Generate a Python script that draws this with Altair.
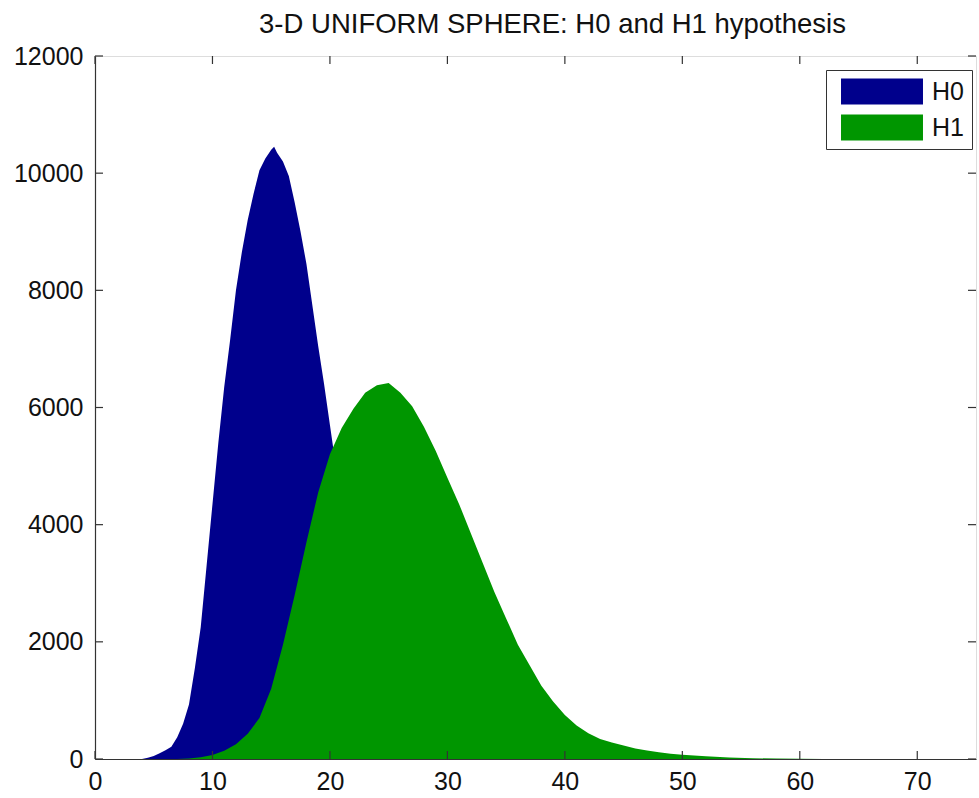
import altair as alt
import pandas as pd

# Histogram counts of the test statistic under each hypothesis
h0_x = [4, 4.5, 5, 5.5, 6, 6.5, 7, 7.5, 8, 8.5, 9, 9.5, 10, 10.5, 11, 11.5, 12, 12.5,
        13, 13.5, 14, 14.5, 15, 15.25, 15.5, 16, 16.5, 17, 17.5, 18, 18.5, 19, 19.5, 20,
        20.5, 21, 21.5, 22, 23, 24, 25, 26, 27, 28, 29, 30, 32, 34]
h0_count = [0, 20, 50, 100, 150, 210, 370, 600, 930, 1550, 2250, 3300, 4350, 5400,
            6350, 7150, 8000, 8650, 9200, 9650, 10050, 10250, 10400, 10450, 10350, 10200,
            9950, 9500, 9000, 8450, 7750, 7050, 6400, 5700, 5000, 4300, 3700, 3100,
            2100, 1350, 850, 500, 290, 160, 80, 40, 10, 0]

h1_x = [7, 8, 9, 10, 11, 12, 13, 14, 15, 16, 17, 18, 19, 20, 21, 22, 23, 24, 25,
        26, 27, 28, 29, 30, 31, 32, 33, 34, 35, 36, 37, 38, 39, 40, 41, 42, 43, 44,
        45, 46, 47, 48, 49, 50, 52, 54, 56, 58, 60, 62, 64]
h1_count = [0, 10, 30, 70, 140, 250, 430, 700, 1200, 1950, 2800, 3700, 4550, 5200,
            5650, 5980, 6250, 6380, 6420, 6250, 6020, 5670, 5260, 4800, 4350, 3850,
            3350, 2850, 2400, 1950, 1600, 1250, 980, 750, 570, 440, 340, 280, 230,
            180, 145, 115, 90, 72, 45, 25, 14, 7, 3, 1, 0]

series_names = ["H0", "H1"]
series_colors = ["#00008C", "#009600"]

x_tick_values = [0, 10, 20, 30, 40, 50, 60, 70]
y_tick_values = [0, 2000, 4000, 6000, 8000, 10000, 12000]

W, H = 881, 703
TICK = 8
FONT = "Liberation Sans"

hist = pd.concat([
    pd.DataFrame({"x": h0_x, "count": h0_count, "series": series_names[0]}),
    pd.DataFrame({"x": h1_x, "count": h1_count, "series": series_names[1]}),
])

x_scale = alt.Scale(domain=[0, 75], nice=False, zero=False)
y_scale = alt.Scale(domain=[0, 12000], nice=False)

x_axis = alt.Axis(values=x_tick_values, title=None, ticks=False, labelFontSize=25,
                  labelFont=FONT, labelColor="#111", labelPadding=10,
                  domainColor="#333", domainWidth=1.2, grid=False, zindex=1,
                  labelFlush=False)
y_axis = alt.Axis(values=y_tick_values, title=None, ticks=False, labelFontSize=25,
                  labelFont=FONT, labelColor="#111", labelPadding=12,
                  domainColor="#333", domainWidth=1.2, grid=False, zindex=1,
                  format="d", labelFlush=False)

# Legend swatches: wide rectangles
swatch = "M-0.854,-0.271 H0.854 V0.271 H-0.854 Z"

areas = alt.Chart(hist).mark_area(interpolate="linear", opacity=1).encode(
    x=alt.X("x:Q", scale=x_scale, axis=x_axis),
    y=alt.Y("count:Q", scale=y_scale, axis=y_axis, stack=None),
    color=alt.Color(
        "series:N",
        scale=alt.Scale(domain=series_names, range=series_colors),
        legend=alt.Legend(
            title=None, orient="none", legendX=731, legendY=14,
            symbolType=swatch, symbolSize=9216, symbolStrokeWidth=0,
            symbolOpacity=1, clipHeight=27, rowPadding=9, padding=8,
            labelFontSize=25, labelFont=FONT, labelColor="#111",
            labelOffset=2, strokeColor="#333", fillColor="white",
        ),
    ),
    order=alt.Order("series:N"),
)

xt = pd.DataFrame({"x": x_tick_values})
yt = pd.DataFrame({"count": y_tick_values})
tick_style = dict(color="#333", strokeWidth=1.2)

bottom_ticks = alt.Chart(xt).mark_rule(**tick_style).encode(
    x=alt.X("x:Q", scale=x_scale), y=alt.value(H), y2=alt.value(H - TICK))
top_ticks = alt.Chart(xt).mark_rule(**tick_style).encode(
    x=alt.X("x:Q", scale=x_scale), y=alt.value(0), y2=alt.value(TICK))
left_ticks = alt.Chart(yt).mark_rule(**tick_style).encode(
    y=alt.Y("count:Q", scale=y_scale), x=alt.value(0), x2=alt.value(TICK))
right_ticks = alt.Chart(yt).mark_rule(**tick_style).encode(
    y=alt.Y("count:Q", scale=y_scale), x=alt.value(W), x2=alt.value(W - TICK))

chart = alt.layer(areas, bottom_ticks, top_ticks, left_ticks, right_ticks).properties(
    width=W, height=H,
    title=alt.TitleParams(
        "3-D UNIFORM SPHERE: H0 and H1 hypothesis",
        fontSize=27.5, font=FONT, fontWeight="normal", color="#111",
        anchor="middle", baseline="alphabetic", frame="group", offset=24, dx=17,
        dy=40,
    ),
    autosize=alt.AutoSizeParams(type="none"),
    padding={"left": 95, "top": 56, "right": 3, "bottom": 39},
).configure_view(stroke="#333", strokeWidth=1.2).configure(background="white")

chart.save("out.html", embed_options={"renderer": "svg", "actions": False})
